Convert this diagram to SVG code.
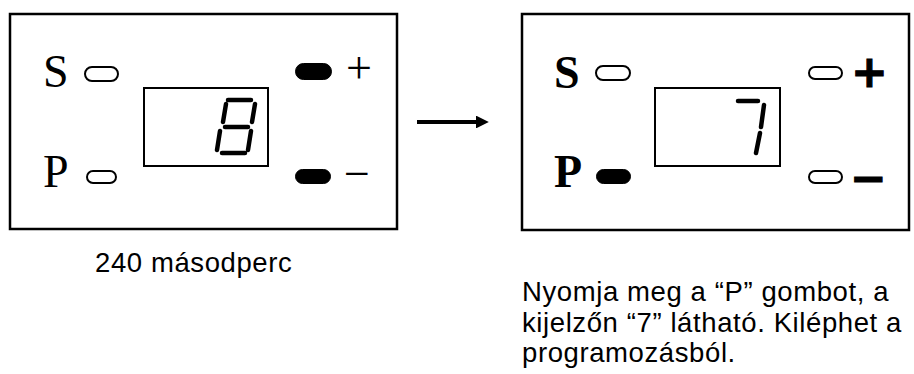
<svg xmlns="http://www.w3.org/2000/svg" width="914" height="374" viewBox="0 0 914 374">
<style>
.frame{fill:#fff;stroke:#000;stroke-width:2.5}
.disp{fill:#fff;stroke:#000;stroke-width:2}
.pill{fill:#fff;stroke:#000;stroke-width:2}
.pillOn{fill:#000;stroke:#000;stroke-width:1}
.seg{fill:none;stroke:#000;stroke-width:4.5;stroke-linecap:round}
.lbl{font-family:"Liberation Serif","Times New Roman",serif;font-size:46px;fill:#000}
.lblB{font-family:"Liberation Serif","Times New Roman",serif;font-size:46px;font-weight:bold;fill:#000}
.sgn{font-family:"Liberation Serif","Times New Roman",serif;font-size:46px;fill:#000}
.sgnB{font-family:"DejaVu Sans",sans-serif;font-size:44px;font-weight:bold;fill:#000;stroke:#000;stroke-width:1}
.cap{font-family:"Liberation Sans",Arial,sans-serif;font-size:27.5px;letter-spacing:0.6px;fill:#000}
.conn{stroke:#000;stroke-width:4;fill:none}
</style>
<defs>
<marker id="ah" viewBox="0 0 10 10" refX="0" refY="5" markerWidth="5" markerHeight="3.2" markerUnits="strokeWidth" orient="auto">
<path d="M0,0 L10,5 L0,10 z" fill="#000"/>
</marker>
</defs>

<g id="panel-before">
<rect class="frame" x="10" y="14" width="387" height="215"/>
<text class="lbl" x="43" y="87">S</text>
<text class="lbl" x="43" y="187">P</text>
<rect class="pill" x="85" y="67" width="33" height="14" rx="7"/>
<rect class="pill" x="87" y="171" width="29" height="12" rx="6"/>
<rect class="pillOn" x="295.5" y="63.5" width="36" height="16" rx="8"/>
<rect class="pillOn" x="295.5" y="169.5" width="35" height="14" rx="7"/>
<text class="sgn" x="346" y="83">+</text>
<text class="sgn" x="344" y="188.5">−</text>
<rect class="disp" x="144" y="88" width="124" height="78"/>
<g id="digit-8">
<title>8</title>
<path class="seg" d="M228,100 L251,100 M255,104 L252,122 M251,131 L248,150 M222,153 L245,153 M220,131 L217,150 M226,104 L223,122 M225,127 L248,127"/>
</g>
</g>

<g id="connectors">
<line class="conn" x1="417" y1="122" x2="476" y2="122" marker-end="url(#ah)"/>
</g>

<g id="panel-after">
<rect class="frame" x="522" y="14" width="387" height="216"/>
<text class="lblB" x="554" y="88">S</text>
<text class="lblB" x="554" y="187">P</text>
<rect class="pill" x="596" y="66" width="34" height="14" rx="7"/>
<rect class="pillOn" x="596.5" y="169.5" width="34" height="14" rx="7"/>
<rect class="pill" x="809" y="67" width="33" height="12" rx="6"/>
<rect class="pill" x="809" y="171" width="33" height="12" rx="6"/>
<text class="sgnB" x="851" y="87">+</text>
<text class="sgnB" x="850" y="192.5">−</text>
<rect class="disp" x="655" y="88" width="125" height="78"/>
<g id="digit-7">
<title>7</title>
<path class="seg" d="M738,101 L758,101 M764,105 L761,127 M760,133 L756,153"/>
</g>
</g>

<g id="captions">
<text class="cap" x="95" y="272">240 másodperc</text>
<text class="cap" x="522" y="301">Nyomja meg a “P” gombot, a</text>
<text class="cap" x="522" y="332">kijelzőn “7” látható. Kiléphet a</text>
<text class="cap" x="522" y="362">programozásból.</text>
</g>
</svg>
